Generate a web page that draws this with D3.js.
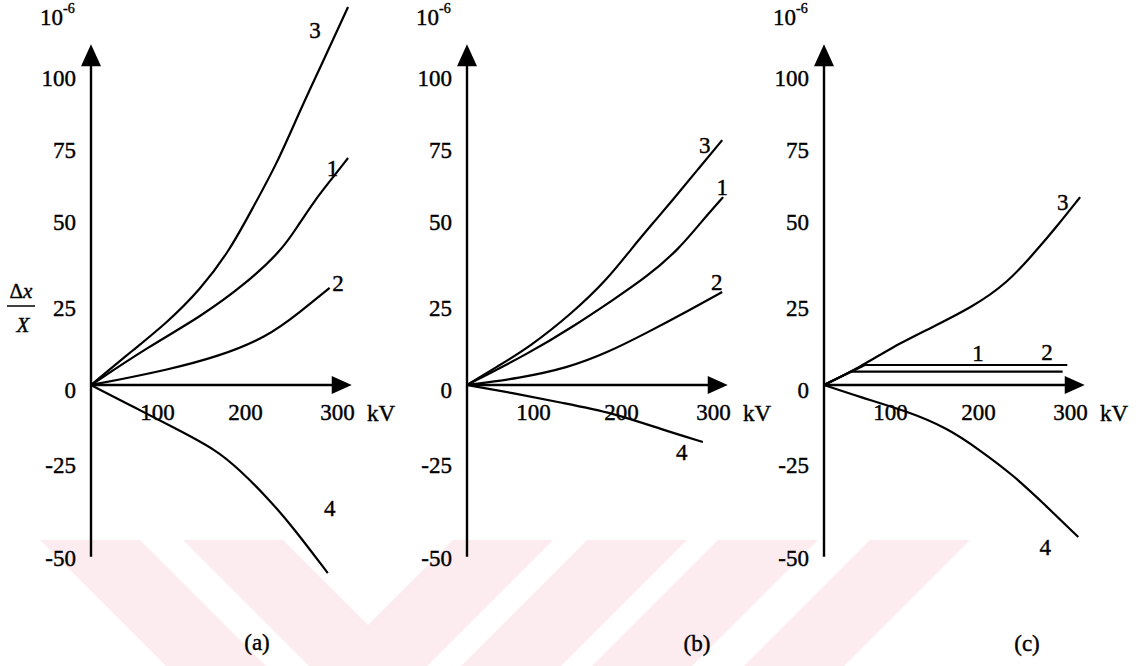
<!DOCTYPE html>
<html>
<head>
<meta charset="utf-8">
<script src="https://cdn.jsdelivr.net/npm/d3@7"></script>
<style>
  body { margin: 0; background: #fff; }
  svg { display: block; }
  text { font-family: "Liberation Serif", "Times New Roman", serif; fill: #000; stroke: #000; stroke-width: 0.4px; }
</style>
</head>
<body>
<div class="canva"></div>
<script>
// ticks (the drawing is hand made, so the value spacing is not even)
const yTicks = [-50, -25, 0, 25, 50, 75, 100]
const yTickPx = [553, 460, 385, 303, 217, 145, 73]
const xTicks = [100, 200, 300]
const xTickOff = [0, 66, 154, 246]   // offsets of 0,100,200,300 kV from the origin
const panelNames = ['(a)', '(b)', '(c)']

// series values: [kV, 1e-6]
const a1 = [[0,0],[89,11.9],[149,20.7],[202,30.8],[240,40.4],[256,46.8],[276,55.9],[295,63.5],[312,70.5]]
const a2 = [[0,0],[39,1.5],[111,4.6],[168,8.5],[224,14.6],[260,22.3],[292,29.4]]
const a3 = [[0,0],[64,10.7],[111,18.9],[149,28.8],[183,40.4],[209,53.5],[235,68.7],[260,87.1],[282,102.1],[312,122.9]]
const a4 = [[0,0],[64,-7.3],[118,-14],[168,-21.7],[194,-27.7],[224,-35],[252,-43],[290,-55.4]]

const b1 = [[0,0],[95,9.8],[145,17.7],[191,25.9],[228,32.6],[262,40.4],[287,48.5],[311,56.9]]
const b2 = [[0,0],[80,2.1],[139,5.2],[184,9.8],[228,15.9],[275,22.9],[310,28.2]]
const b3 = [[0,0],[45,5.5],[95,11.6],[145,22],[184,31.7],[212,41],[235,48.3],[257,56.2],[283,66.3],[310,76.7]]
const b4 = [[0,0],[70,-2.7],[134,-6],[191,-9.3],[246,-15],[289,-19]]

const c1 = [[0,0],[62,6.1],[297,6.1]]
const c2 = [[0,0],[41,4.1],[292,4.1]]
const c3 = [[0,0],[55,5.5],[103,11.6],[142,16.8],[194,23.8],[232,30.8],[264,40.4],[287,47.7],[311,56.9]]
const c4 = [[0,0],[54.5,-4],[119,-8.7],[165,-14.3],[202,-21.7],[238,-29],[273,-37.1],[309,-45.7]]

// curve numbers, placed in data units
const labA = [['3',276,114.9],['1',295,67],['2',301,30.8],['4',292,-37.9]]
const labB = [['3',291,75],['1',310,60.4],['2',304,31.1],['4',266,-22.3]]
const labC = [['3',292,55.2],['1',200,9.8],['2',275,10.1],['4',273,-48.4]]

const seriesByPanel = [[a1,a2,a3,a4],[b1,b2,b3,b4],[c1,c2,c3,c4]]
const labelsByPanel = [labA, labB, labC]
const straight = [c1, c2]

// layout
const origins = [91, 467, 824]
const captions = [[257,642],[697,643],[1027,643]]
const xEnd = 316, yTop = 110, yBottom = -51
const font = 23

const canvas = d3.select('.canva')
const svg = canvas.append('svg')
    .attr('width', 1148)
    .attr('height', 666)

// faint watermark bands at the bottom
const bands = [[40,'\\'],[183,'\\'],[453,'/'],[587,'/'],[718,'/'],[870,'/']]
svg.append('g').selectAll('path')
    .data(bands)
    .enter().append('path')
    .attr('fill', '#fdecef')
    .attr('d', d => {
        const s = d[1] == '\\' ? 126 : -126
        return `M${d[0]},540 L${d[0]+100},540 L${d[0]+100+s},666 L${d[0]+s},666 Z`
    })

const y = d3.scaleLinear().domain(yTicks).range(yTickPx)

const line = (x, d) => d3.line()
    .x(p => x(p[0]))
    .y(p => y(p[1]))
    .curve(straight.includes(d) ? d3.curveLinear : d3.curveBasis)(d)

origins.forEach((ox, p) => {
    const x = d3.scaleLinear()
        .domain([0].concat(xTicks))
        .range(xTickOff.map(o => ox + o))
    const g = svg.append('g')

    //y axis labels
    const ya = g.append('g')
        .attr('transform', `translate(${ox},0)`)
        .call(d3.axisLeft(y).tickValues(yTicks).tickFormat(d => String(d)).tickSize(0).tickPadding(15))
    ya.select('.domain').remove()
    ya.attr('font-size', font).attr('font-family', '"Liberation Serif", serif')
    ya.selectAll('text').attr('y', 5)

    //x axis labels
    const xa = g.append('g')
        .attr('transform', `translate(0,${y(0)})`)
        .call(d3.axisBottom(x).tickValues(xTicks).tickSize(0).tickPadding(19))
    xa.select('.domain').remove()
    xa.attr('font-size', font).attr('font-family', '"Liberation Serif", serif')

    g.append('text')
        .text('kV')
        .attr('x', x(300) + 30)
        .attr('y', y(0) + 28)
        .attr('dy', '0.35em')
        .attr('font-size', font)

    //axis lines with arrows
    const tipY = y(yTop), tipX = x(xEnd)
    g.append('line')
        .attr('x1', ox).attr('x2', ox)
        .attr('y1', y(yBottom)).attr('y2', tipY + 20)
        .attr('stroke', '#000').attr('stroke-width', 2.4)
    g.append('path')
        .attr('d', `M${ox},${tipY} L${ox-10},${tipY+22} L${ox+10},${tipY+22} Z`)
        .attr('fill', '#000')
    g.append('line')
        .attr('x1', ox).attr('x2', tipX - 18)
        .attr('y1', y(0)).attr('y2', y(0))
        .attr('stroke', '#000').attr('stroke-width', 2.4)
    g.append('path')
        .attr('d', `M${tipX},${y(0)} L${tipX-20},${y(0)-9} L${tipX-20},${y(0)+9} Z`)
        .attr('fill', '#000')

    //10^-6
    const unit = g.append('text')
        .attr('x', ox - 51)
        .attr('y', 25)
        .attr('font-size', font)
    unit.append('tspan').text('10')
    unit.append('tspan').text('-6').attr('font-size', 14).attr('dy', -12)

    //curves
    g.selectAll('path.curve')
        .data(seriesByPanel[p])
        .enter().append('path')
        .attr('class', 'curve')
        .attr('d', d => line(x, d))
        .attr('fill', 'none')
        .attr('stroke', '#000')
        .attr('stroke-width', 2.2)

    g.selectAll('text.num')
        .data(labelsByPanel[p])
        .enter().append('text')
        .attr('class', 'num')
        .text(d => d[0])
        .attr('x', d => x(d[1]))
        .attr('y', d => y(d[2]))
        .attr('dy', '0.35em')
        .attr('text-anchor', 'middle')
        .attr('font-size', font)

    g.append('text')
        .text(panelNames[p])
        .attr('x', captions[p][0])
        .attr('y', captions[p][1])
        .attr('dy', '0.35em')
        .attr('text-anchor', 'middle')
        .attr('font-size', font)
})

// Δx / X label on the first axis
const frac = svg.append('g')
const numer = frac.append('text')
    .attr('x', 21).attr('y', 298)
    .attr('text-anchor', 'middle')
    .attr('font-size', 21)
numer.append('tspan').text('Δ')
numer.append('tspan').text('x').attr('font-style', 'italic')
frac.append('line')
    .attr('x1', 7).attr('x2', 35)
    .attr('y1', 306).attr('y2', 306)
    .attr('stroke', '#000').attr('stroke-width', 1.5)
frac.append('text')
    .text('X')
    .attr('x', 23).attr('y', 332)
    .attr('text-anchor', 'middle')
    .attr('font-style', 'italic')
    .attr('font-size', 21)
</script>
</body>
</html>
